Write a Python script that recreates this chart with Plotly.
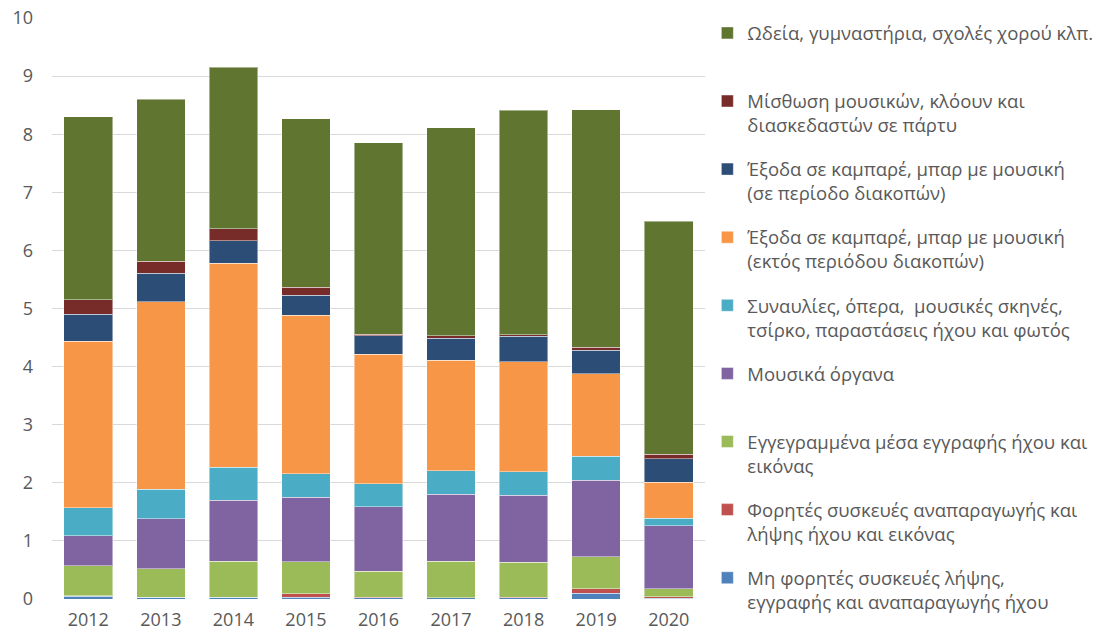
import plotly.graph_objects as go

years = ["2012", "2013", "2014", "2015", "2016", "2017", "2018", "2019", "2020"]

# bottom -> top of the stack
mh_foritis = [0.05, 0.03, 0.03, 0.03, 0.02, 0.02, 0.02, 0.10, 0.01]
foritis = [0.01, 0.00, 0.00, 0.06, 0.01, 0.00, 0.01, 0.08, 0.03]
eggegrammena = [0.51, 0.49, 0.62, 0.55, 0.45, 0.63, 0.60, 0.55, 0.14]
organa = [0.52, 0.86, 1.05, 1.11, 1.11, 1.15, 1.16, 1.31, 1.08]
synavlies = [0.48, 0.51, 0.57, 0.41, 0.39, 0.41, 0.40, 0.42, 0.13]
exodos_ektos = [2.87, 3.23, 3.51, 2.72, 2.23, 1.90, 1.89, 1.42, 0.62]
exodos_diakopes = [0.46, 0.49, 0.39, 0.35, 0.32, 0.38, 0.44, 0.40, 0.40]
misthosi = [0.25, 0.20, 0.20, 0.14, 0.03, 0.04, 0.03, 0.05, 0.08]
odeia = [3.15, 2.79, 2.78, 2.90, 3.29, 3.58, 3.86, 4.09, 4.01]

names = [
    "Μη φορητές συσκευές λήψης,<br>εγγραφής και αναπαραγωγής ήχου",
    "Φορητές συσκευές αναπαραγωγής και<br>λήψης ήχου και εικόνας",
    "Εγγεγραμμένα μέσα εγγραφής ήχου και<br>εικόνας",
    "Μουσικά όργανα<br> ",
    "Συναυλίες, όπερα,  μουσικές σκηνές,<br>τσίρκο, παραστάσεις ήχου και φωτός",
    "Έξοδα σε καμπαρέ, μπαρ με μουσική<br>(εκτός περιόδου διακοπών)",
    "Έξοδα σε καμπαρέ, μπαρ με μουσική<br>(σε περίοδο διακοπών)",
    "Μίσθωση μουσικών, κλόουν και<br>διασκεδαστών σε πάρτυ",
    "Ωδεία, γυμναστήρια, σχολές χορού κλπ.<br> ",
]
series = [mh_foritis, foritis, eggegrammena, organa, synavlies,
          exodos_ektos, exodos_diakopes, misthosi, odeia]
colors = ["#4F81BD", "#C0504D", "#9BBB59", "#8064A2", "#4BACC6",
          "#F79646", "#2C4D75", "#772C2A", "#5F7530"]

fig = go.Figure()
n = len(series)
for i, (nm, vals, col) in enumerate(zip(names, series, colors)):
    fig.add_trace(go.Bar(
        x=years, y=vals, name=nm, legendgroup=f"g{i}", legendrank=100 + (n - i),
        marker=dict(color=col, line=dict(color="rgba(255,255,255,0.45)", width=1)),
    ))

fig.update_layout(
    width=1103, height=637,
    barmode="stack", bargap=0.33,
    plot_bgcolor="white", paper_bgcolor="white",
    margin=dict(l=52, r=398, t=18, b=38, autoexpand=False),
    font=dict(family="Open Sans", size=18, color="#595959"),
    legend=dict(
        xref="container", yref="container",
        x=0.6413, y=0.9774, xanchor="left", yanchor="top",
        traceorder="grouped", tracegroupgap=17,
        valign="top", maxheight=637,
        font=dict(family="Open Sans", size=18.5, color="#595959"),
        bgcolor="rgba(0,0,0,0)",
    ),
)
fig.update_xaxes(showgrid=False, showline=False, ticks="", ticklabelstandoff=8,
                 automargin=False, tickfont=dict(size=18, color="#595959"))
fig.update_yaxes(range=[0, 10], dtick=1, showgrid=True, gridcolor="#D9D9D9",
                 gridwidth=1.3, zeroline=False, showline=False, ticks="",
                 automargin=False,
                 ticklabelstandoff=18, tickfont=dict(size=18, color="#595959"))

fig.write_html("out.html",
               config={"displayModeBar": False},
               post_script="document.body.style.margin='0px';document.body.style.overflow='hidden';")
